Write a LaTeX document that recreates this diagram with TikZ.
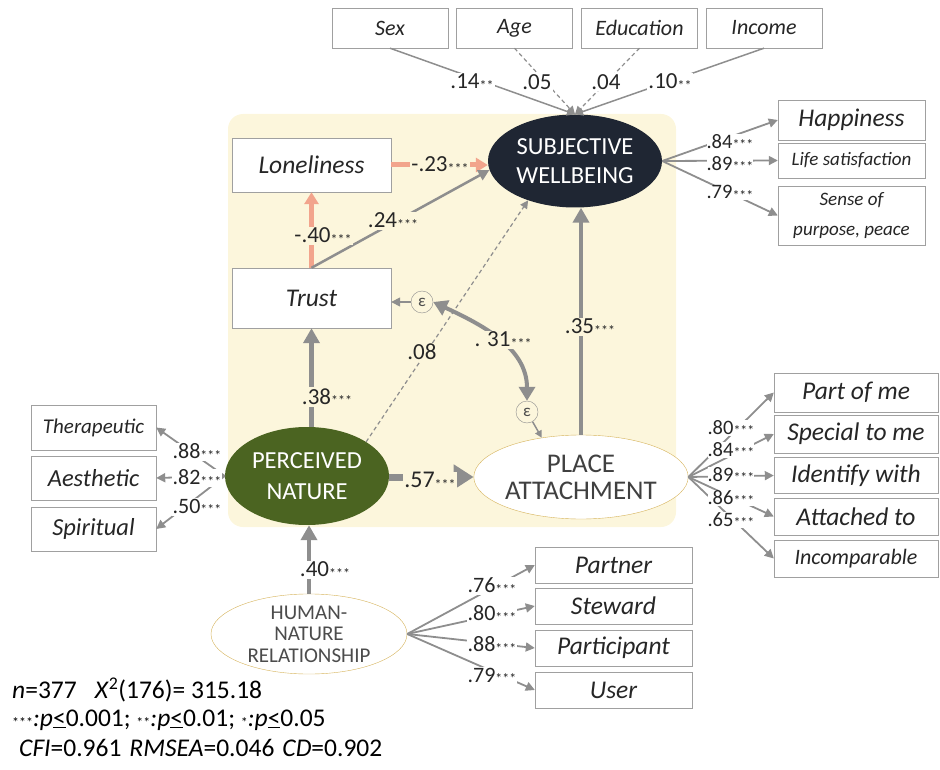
\documentclass[tikz,border=0pt]{standalone}
\usepackage{fontspec}
\setmainfont{Carlito}
\usetikzlibrary{arrows.meta,shapes.geometric,calc}
\definecolor{bgyel}{HTML}{FCF6DC}
\definecolor{swbblue}{HTML}{1F2633}
\definecolor{pngreen}{HTML}{4B6421}
\definecolor{goldline}{HTML}{D6B35A}
\definecolor{salmon}{HTML}{F2A48C}
\definecolor{lgray}{HTML}{8E8E8E}
\definecolor{boxgray}{HTML}{A0A0A0}
\newcommand{\sigc}{{\fontsize{14}{14}\selectfont\raisebox{-1.5pt}{***}}}
\newcommand{\sigb}{{\fontsize{14}{14}\selectfont\raisebox{-1.5pt}{**}}}
\newcommand{\siga}{{\fontsize{14}{14}\selectfont\raisebox{-1.5pt}{*}}}
\newcommand{\fsz}[1]{\fontsize{#1}{#1}\selectfont}

\tikzset{
  ibox/.style={draw=boxgray, fill=white, inner sep=0pt, text=black!85,
    minimum width=147pt, font=\itshape\fontsize{25.5}{28}\selectfont},
  topbox/.style={ibox, minimum width=116pt, minimum height=40pt,
    font=\itshape\fontsize{22}{24}\selectfont},
  latent/.style={ellipse, inner sep=0pt, align=center},
  lab/.style={fill=white, inner sep=1pt, text=black!85, font=\fsz{22}},
  labin/.style={lab, fill=bgyel, font=\fsz{23}},
  tight/.style={lab, inner sep=0pt, font=\fsz{20.5}},
  eps/.style={circle, draw=lgray, fill=bgyel, inner sep=0pt, minimum size=22pt,
    text=black!70, font=\fsz{17}},
  ind/.style={lgray, line width=1.8pt, -{Triangle[length=9pt,width=9pt]}},
  cov/.style={lgray, line width=1.5pt, -{Triangle[length=8pt,width=8pt]}},
  covdash/.style={cov, line width=1.2pt, dash pattern=on 4pt off 3pt},
  fatarrow/.style={lgray, line width=4.5pt, -{Triangle[length=15pt,width=16pt]}},
  salmonarrow/.style={salmon, line width=5pt, -{Triangle[length=12pt,width=14pt]}}
}

\begin{document}
\begin{tikzpicture}[x=1pt,y=-1pt]
\useasboundingbox (0,0) rectangle (940,770);
\fill[bgyel, rounded corners=15pt] (228,114) rectangle (676,527);

% controls
\node[topbox] (sex) at (390,28) {Sex};
\node[topbox] (age) at (514.5,28) {Age};
\node[topbox] (edu) at (639.5,28) {Education};
\node[topbox] (inc) at (764,28) {Income};

% latent variables
\node[latent, fill=swbblue, minimum width=174pt, minimum height=93pt, text=white,
  font=\fontsize{24.5}{29}\selectfont] (swb) at (575,161) {SUBJECTIVE\\WELLBEING};
\node[latent, fill=pngreen, minimum width=164pt, minimum height=98pt, text=white,
  font=\fontsize{24.5}{31}\selectfont] (pn) at (307,476) {PERCEIVED\\NATURE};
\node[latent, draw=goldline, fill=white, minimum width=186pt, minimum height=84pt,
  text=black!75, font=\fontsize{27}{27}\selectfont] (pa) at (581,477) {PLACE\\ATTACHMENT};
\node[latent, draw=goldline, fill=white, minimum width=196pt, minimum height=74pt,
  text=black!70, font=\fontsize{21}{21.5}\selectfont] (hnr) at (309,634) {HUMAN-\\NATURE\\RELATIONSHIP};

\node[ibox, minimum width=159pt, minimum height=54pt] (lone) at (311.5,165) {Loneliness};
\node[ibox, minimum width=159pt, minimum height=60pt] (trust) at (311.5,298) {Trust};
\node[eps] (eps1) at (422,302) {ε};
\node[eps] (eps2) at (527,412) {ε};

% indicators
\node[ibox, minimum height=40pt] (happy) at (851.5,120) {Happiness};
\node[ibox, minimum height=35pt, font=\itshape\fsz{19}] (life) at (851.5,160.5) {Life satisfaction};
\node[ibox, minimum height=59pt, align=center, font=\itshape\fontsize{19}{30}\selectfont] (sense) at (851.5,215.5) {Sense of\\purpose, peace};

\node[ibox, minimum width=125pt, minimum height=45pt, font=\itshape\fsz{21}] (thera) at (93.5,427.5) {Therapeutic};
\node[ibox, minimum width=125pt, minimum height=44pt, font=\itshape\fsz{24.5}] (aesth) at (93.5,478) {Aesthetic};
\node[ibox, minimum width=125pt, minimum height=44pt, font=\itshape\fsz{24.5}] (spirit) at (93.5,529) {Spiritual};

\node[ibox, minimum width=164pt, minimum height=39pt] (partof) at (856,392.5) {Part of me};
\node[ibox, minimum width=164pt, minimum height=38pt] (special) at (856,434) {Special to me};
\node[ibox, minimum width=164pt, minimum height=36pt] (identify) at (856,475.5) {Identify with};
\node[ibox, minimum width=164pt, minimum height=37pt] (attached) at (856,516.5) {Attached to};
\node[ibox, minimum width=164pt, minimum height=37pt, font=\itshape\fsz{22}] (incomp) at (856,558.5) {Incomparable};

\node[ibox, minimum width=157pt, minimum height=36pt] (partner) at (613.5,565) {Partner};
\node[ibox, minimum width=157pt, minimum height=36pt] (steward) at (613.5,606) {Steward};
\node[ibox, minimum width=157pt, minimum height=36pt] (particip) at (613.5,648) {Participant};
\node[ibox, minimum width=157pt, minimum height=36pt] (user) at (613.5,690) {User};

% paths
\draw[cov] (sex.south) -- (swb.north);
\draw[covdash] (age.south) -- (swb.north);
\draw[covdash] (edu.south) -- (swb.north);
\draw[cov] (inc.south) -- (swb.north);

\draw[salmonarrow] (lone.east) -- (lone.east -| swb.west);
\draw[salmonarrow] (trust.north) -- (lone.south);
\draw[lgray, line width=2.5pt, -{Triangle[length=11pt,width=11pt]}] (trust.north) -- (swb.186);
\draw[covdash] (pn.30) -- (swb.220);
\draw[ind, line width=1.5pt] (eps1.west) -- (eps1.west -| trust.east);
\draw[ind, line width=1.5pt, -{Triangle[length=7pt,width=7pt]}] (eps2.-60) -- (pa.135);
\draw[lgray, line width=4pt, {Triangle[length=14pt,width=16pt]}-{Triangle[length=14pt,width=16pt]}]
  (eps1.east) to[out=-25,in=90] (eps2.north);
\draw[fatarrow, line width=4pt] (pa.north) -- (pa.north |- swb.south);
\draw[fatarrow] (pn.north -| trust.south) -- (trust.south);
\draw[fatarrow, line width=7pt, -{Triangle[length=20pt,width=24pt]}] (pn.east |- pa.west) -- (pa.west);
\draw[fatarrow] (hnr.north) -- (hnr.north |- pn.south);

\foreach \b in {happy,life,sense} \draw[ind] (swb.east) -- (\b.west);
\foreach \b in {thera,aesth,spirit} \draw[ind] (pn.west) -- (\b.east);
\foreach \b in {partof,special,identify,attached,incomp} \draw[ind] (pa.east) -- (\b.west);
\foreach \b in {partner,steward,particip,user} \draw[ind] (hnr.east) -- (\b.west);

% estimates
\node[lab, font=\fsz{23}] (l14) at (472,82) {.14\sigb};
\node[lab, font=\fsz{23}] (l05) at (537,82) {.05};
\node[lab, font=\fsz{23}] (l04) at (606,82) {.04};
\node[lab, font=\fsz{23}] (l10) at (670,82) {.10\sigb};

\node[labin] (lm23) at (440,165) {-.23\sigc};
\node[labin] (lm40) at (323,236) {-.40\sigc};
\node[labin] (l24) at (393,221) {.24\sigc};
\node[labin] (l08) at (422,352) {.08};
\node[labin] (l31) at (503,340) {. 31\sigc};
\node[labin] (l35) at (590,327) {.35\sigc};
\node[labin] (l38) at (327,397) {.38\sigc};
\node[labin, font=\fsz{24}] (l57) at (430,481) {.57\sigc};
\node[lab, font=\fsz{23}] (l40) at (325,570) {.40\sigc};

\node[tight] (s84) at (730,142) {.84\sigc};
\node[tight] (s89) at (730,164) {.89\sigc};
\node[tight] (s79) at (730,193) {.79\sigc};

\node[lab] (n88) at (197,452) {.88\sigc};
\node[lab] (n82) at (197,478) {.82\sigc};
\node[lab] (n50) at (197,507) {.50\sigc};

\node[tight] (p80) at (731,428) {.80\sigc};
\node[tight] (p84) at (731,450) {.84\sigc};
\node[tight] (p89) at (731,475) {.89\sigc};
\node[tight] (p86) at (731,498) {.86\sigc};
\node[tight] (p65) at (731,520) {.65\sigc};

\node[lab] (h76) at (492,586) {.76\sigc};
\node[lab] (h80) at (492,614) {.80\sigc};
\node[lab] (h88) at (492,645) {.88\sigc};
\node[lab] (h79) at (492,676) {.79\sigc};

% fit
\node[anchor=west, inner sep=0pt, font=\fsz{25.5}] (fit1) at (12,690)
  {\textit{n}=377\hspace{18pt}\textit{X}\textsuperscript{2}(176)= 315.18};
\node[anchor=west, inner sep=0pt, font=\fsz{25.5}] (fit2) at (12,720)
  {\sigc\textit{:p}\underline{<}0.001; \sigb\textit{:p}\underline{<}0.01; \siga\textit{:p}\underline{<}0.05};
\node[anchor=west, inner sep=0pt, font=\fsz{25.5}] (fit3) at (19,748)
  {\textit{CFI}=0.961\hspace{8pt}\textit{RMSEA}=0.046\hspace{8pt}\textit{CD}=0.902};
\end{tikzpicture}
\end{document}
